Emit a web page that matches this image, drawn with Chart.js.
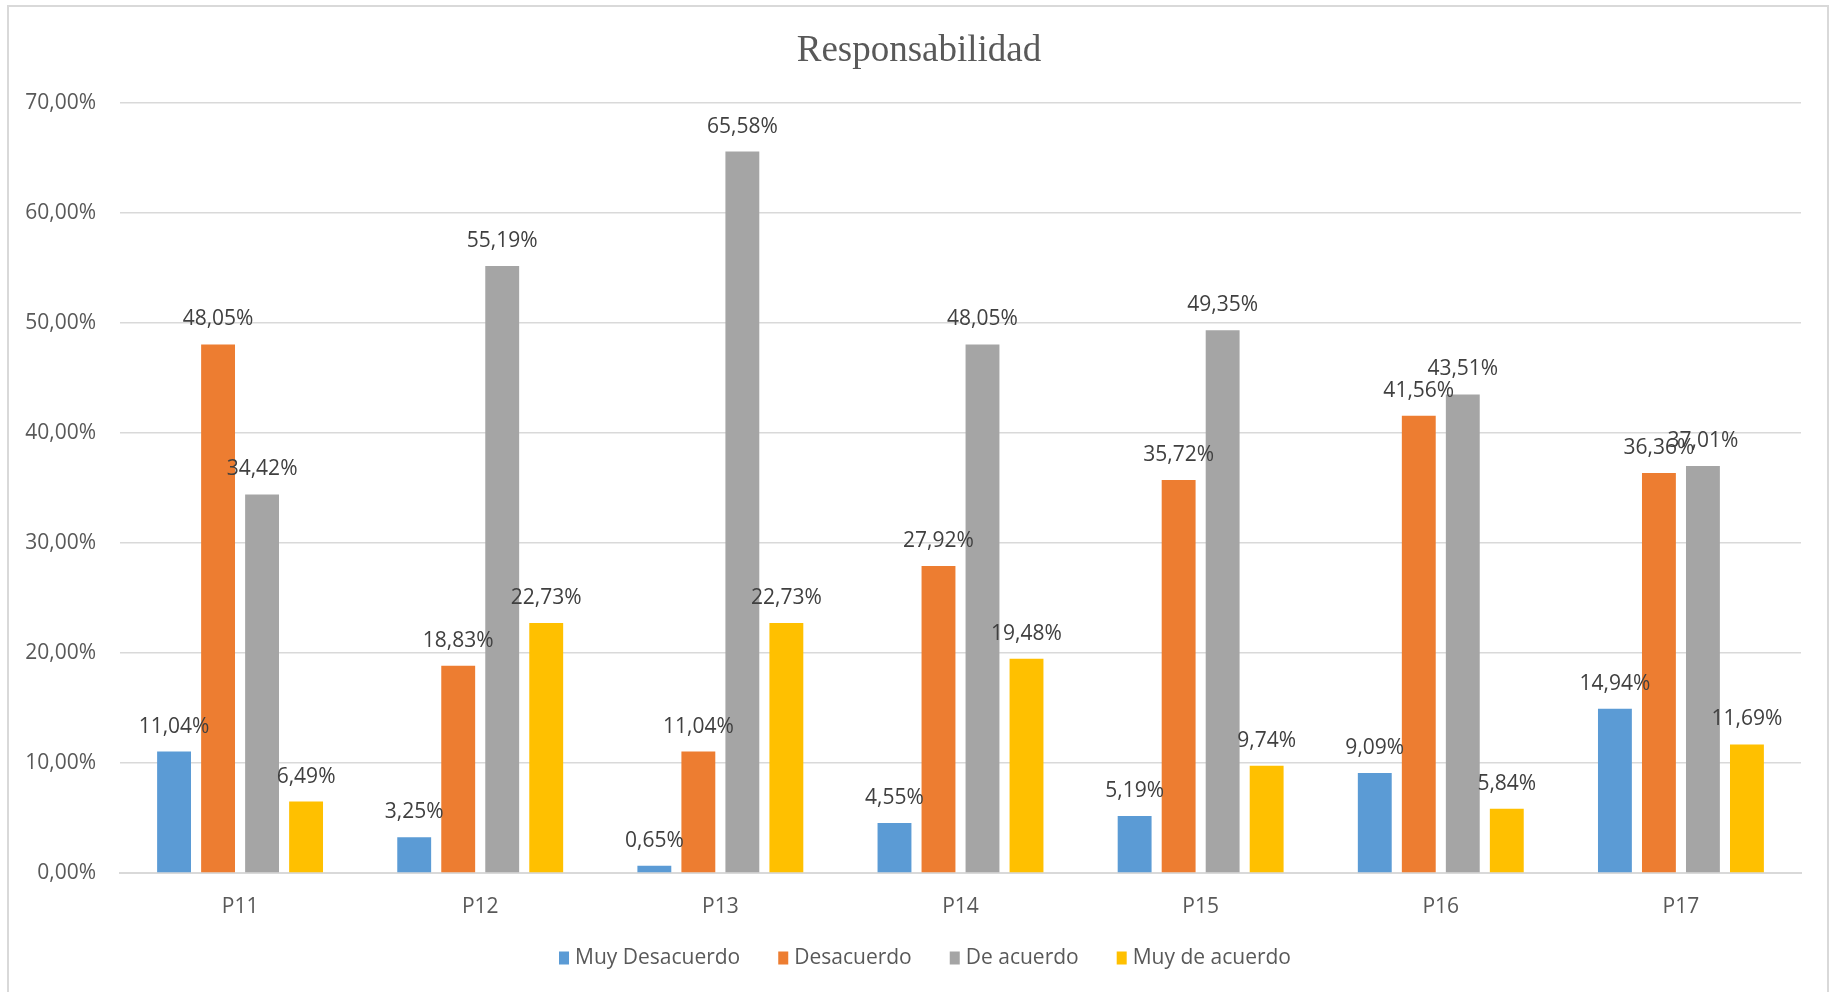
<!DOCTYPE html>
<html lang="es">
<head>
<meta charset="utf-8">
<title>Responsabilidad</title>
<script src="https://cdn.jsdelivr.net/npm/chart.js@4.4.1/dist/chart.umd.min.js"></script>
<style>
    html, body { margin: 0; padding: 0; background: #ffffff; overflow: hidden; }
    #marco {
        position: absolute; left: 7px; top: 5px;
        width: 1822px; height: 1010px;
        border: 2px solid #d9d9d9; box-sizing: border-box;
    }
    #grafico { position: absolute; left: 0; top: 0; }
</style>
</head>
<body>
<div id="marco"></div>
<canvas id="grafico" width="1838" height="992"></canvas>
<script>
// Datos del gráfico (porcentajes)
const preguntas = ['P11', 'P12', 'P13', 'P14', 'P15', 'P16', 'P17'];
const series = ['Muy Desacuerdo', 'Desacuerdo', 'De acuerdo', 'Muy de acuerdo'];
const muyDesacuerdo = [11.04, 3.25, 0.65, 4.55, 5.19, 9.09, 14.94];
const desacuerdo = [48.05, 18.83, 11.04, 27.92, 35.72, 41.56, 36.36];
const deAcuerdo = [34.42, 55.19, 65.58, 48.05, 49.35, 43.51, 37.01];
const muyDeAcuerdo = [6.49, 22.73, 22.73, 19.48, 9.74, 5.84, 11.69];
const colores = ['#5B9BD5', '#ED7D31', '#A5A5A5', '#FFC000'];
const ejeY = { min: 0, max: 70, paso: 10 };
const titulo = 'Responsabilidad';

const fuente = "'Open Sans', 'Noto Sans', sans-serif";
const formato = v => v.toFixed(2).replace('.', ',') + '%';

// Etiquetas de valor encima de cada barra
const etiquetasBarras = {
    id: 'etiquetasBarras',
    afterDatasetsDraw(chart) {
        const ctx = chart.ctx;
        ctx.save();
        ctx.font = '21px ' + fuente;
        ctx.fillStyle = '#404040';
        ctx.textAlign = 'center';
        ctx.textBaseline = 'middle';
        chart.data.datasets.forEach((ds, i) => {
            chart.getDatasetMeta(i).data.forEach((barra, j) => {
                ctx.fillText(formato(ds.data[j]), barra.x, barra.y - 25);
            });
        });
        ctx.restore();
    }
};

// Título y leyenda dibujados a mano (estilo Excel: cuadros estrechos y mucho espacio entre items)
const tituloYLeyenda = {
    id: 'tituloYLeyenda',
    afterDraw(chart) {
        const ctx = chart.ctx;
        ctx.save();
        ctx.fillStyle = '#595959';
        ctx.textAlign = 'center';
        ctx.textBaseline = 'middle';
        ctx.font = "37px 'Liberation Serif', 'Times New Roman', serif";
        ctx.fillText(titulo, 919, 51);

        ctx.font = '21px ' + fuente;
        const caja = 10, hueco = 6, sep = 38;
        const anchos = chart.data.datasets.map(ds => ctx.measureText(ds.label).width);
        const total = anchos.reduce((s, w) => s + caja + hueco + w, 0) + sep * (anchos.length - 1);
        let x = 925 - total / 2;
        const y = 958;
        ctx.textAlign = 'left';
        chart.data.datasets.forEach((ds, i) => {
            ctx.fillStyle = ds.backgroundColor;
            ctx.fillRect(x, y - 6.5, caja, 13);
            ctx.fillStyle = '#595959';
            ctx.fillText(ds.label, x + caja + hueco, y);
            x += caja + hueco + anchos[i] + sep;
        });
        ctx.restore();
    }
};

const valores = [muyDesacuerdo, desacuerdo, deAcuerdo, muyDeAcuerdo];

const data = {
    labels: preguntas,
    datasets: series.map((nombre, i) => ({
        label: nombre,
        data: valores[i],
        backgroundColor: colores[i],
        borderWidth: 0,
        categoryPercentage: 0.733,
        barPercentage: 0.77
    }))
};

const config = {
    type: 'bar',
    data: data,
    options: {
        responsive: false,
        animation: false,
        layout: { padding: { left: 0, right: 37, top: 103, bottom: 59 } },
        plugins: {
            title: { display: false },
            legend: { display: false },
            tooltip: { enabled: false }
        },
        scales: {
            x: {
                afterFit(scale) { scale.height = 60; },
                grid: { display: false, drawTicks: false },
                border: { color: '#d9d9d9', width: 2 },
                ticks: { color: '#595959', font: { family: fuente, size: 21 }, padding: 21 }
            },
            y: {
                min: ejeY.min,
                max: ejeY.max,
                afterFit(scale) { scale.width = 120; },
                grid: { color: '#d9d9d9', lineWidth: 1.5, drawTicks: false },
                border: { display: false },
                ticks: {
                    stepSize: ejeY.paso,
                    color: '#595959',
                    font: { family: fuente, size: 21 },
                    padding: 24,
                    callback: v => formato(v)
                }
            }
        }
    },
    plugins: [etiquetasBarras, tituloYLeyenda]
};

const ctx = document.getElementById('grafico').getContext('2d');
window.chartInstance = new Chart(ctx, config);
</script>
</body>
</html>
